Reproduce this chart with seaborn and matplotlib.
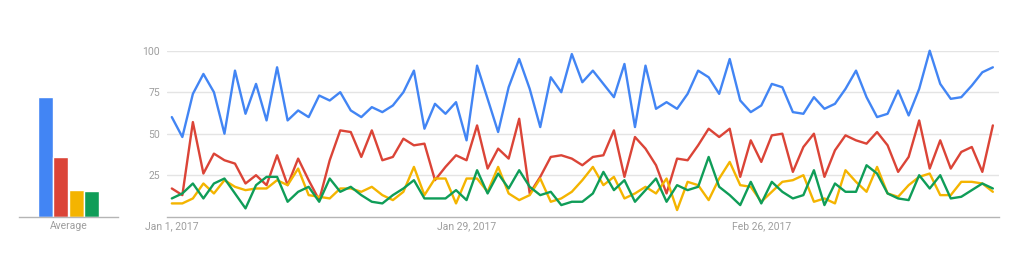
import matplotlib
matplotlib.use("Agg")
import matplotlib.pyplot as plt
import seaborn as sns
import pandas as pd
import numpy as np

# ---------------- data ----------------
start_date = "2017-01-01"
n_days = 79

blue = [60, 48, 74, 86, 75, 50, 88, 62, 80, 58, 90, 58, 64, 60, 73, 70, 75, 64, 60, 66,
        63, 67, 75, 88, 53, 68, 62, 69, 46, 91, 71, 51, 78, 95, 77, 54, 84, 75, 98, 81,
        88, 80, 72, 92, 54, 91, 65, 69, 65, 74, 88, 84, 74, 95, 70, 63, 67, 80, 78, 63,
        62, 72, 65, 68, 77, 88, 72, 60, 62, 76, 61, 77, 100, 80, 71, 72, 79, 87, 90]
red = [17, 13, 57, 26, 38, 34, 32, 20, 25, 19, 37, 19, 35, 22, 10, 34, 52, 51, 36, 52,
       34, 36, 47, 43, 44, 22, 30, 37, 34, 55, 29, 41, 35, 59, 14, 24, 36, 37, 35, 31,
       36, 37, 52, 24, 48, 41, 31, 14, 35, 34, 43, 53, 48, 53, 24, 46, 33, 49, 50, 27,
       42, 50, 24, 40, 49, 46, 44, 51, 43, 27, 36, 58, 29, 46, 29, 39, 42, 27, 55]
yellow = [8, 8, 11, 20, 14, 22, 18, 16, 17, 17, 22, 19, 29, 13, 12, 11, 17, 17, 15, 18,
          13, 10, 15, 30, 13, 23, 23, 8, 23, 23, 15, 30, 14, 10, 13, 23, 9, 11, 15, 22,
          30, 19, 24, 11, 14, 18, 14, 23, 4, 21, 19, 10, 23, 33, 19, 18, 9, 15, 21, 22,
          25, 9, 11, 8, 28, 21, 15, 30, 14, 12, 19, 24, 26, 13, 13, 21, 21, 20, 15]
green = [11, 14, 20, 11, 20, 23, 14, 5, 19, 24, 24, 9, 15, 18, 9, 23, 15, 18, 13, 9,
         8, 13, 17, 22, 11, 11, 11, 16, 10, 28, 14, 26, 17, 28, 18, 13, 15, 7, 9, 9,
         14, 27, 16, 22, 9, 16, 23, 9, 19, 16, 18, 36, 18, 13, 7, 21, 8, 21, 15, 11,
         13, 28, 7, 20, 15, 15, 31, 26, 14, 11, 10, 25, 17, 25, 11, 12, 16, 20, 17]

series_names = ["Term 1", "Term 2", "Term 3", "Term 4"]
series_colors = ["#4285F4", "#DB4437", "#F4B400", "#0F9D58"]
averages = [72, 36, 16, 15.5]

y_ticks = [25, 50, 75, 100]
x_tick_dates = ["2017-01-01", "2017-01-29", "2017-02-26"]
x_tick_labels = ["Jan 1, 2017", "Jan 29, 2017", "Feb 26, 2017"]
bar_label = "Average"

# ---------------- build frame ----------------
dates = pd.date_range(start_date, periods=n_days, freq="D")
df = pd.DataFrame({"date": np.tile(dates, 4),
                   "value": blue + red + yellow + green,
                   "term": np.repeat(series_names, n_days)})
avg_df = pd.DataFrame({"term": series_names, "avg": averages})

sns.set_theme(style="white")
plt.rcParams["font.family"] = ["Roboto", "DejaVu Sans"]

W, H = 1024, 275
fig = plt.figure(figsize=(W / 100, H / 100), dpi=100)
fig.patch.set_facecolor("white")

y0 = 216.7
y100 = 50.7
bottom = (H - y0) / H
height = (y0 - y100) / H

tick_color = "#9e9e9e"
grid_color = "#e4e4e4"
base_color = "#b5b5b5"

# ---------------- main line chart ----------------
ax = fig.add_axes([167 / W, bottom, (999 - 167) / W, height])
sns.lineplot(data=df, x="date", y="value", hue="term", palette=series_colors,
             linewidth=1.7, legend=False, ax=ax, clip_on=False)
for ln in ax.lines:
    ln.set_clip_on(False)
    ln.set_solid_joinstyle("round")

ax.set_ylim(0, 100)
left_lim = dates[0] - pd.Timedelta(hours=11)
right_lim = dates[-1] + pd.Timedelta(hours=14)
ax.set_xlim(left_lim, right_lim)
ax.set_yticks(y_ticks)
ax.set_yticklabels([str(v) for v in y_ticks])
ax.set_xticks(pd.to_datetime(x_tick_dates))
ax.set_xticklabels(x_tick_labels)
ax.set_xlabel("")
ax.set_ylabel("")
ax.grid(axis="y", color=grid_color, linewidth=1.0)
ax.grid(axis="x", visible=False)
ax.set_axisbelow(True)
for s in ["top", "right", "left"]:
    ax.spines[s].set_visible(False)
ax.spines["bottom"].set_color(base_color)
ax.spines["bottom"].set_linewidth(1.0)
ax.tick_params(axis="y", length=0, pad=5, labelsize=7.5, labelcolor=tick_color)
ax.tick_params(axis="x", length=0, pad=3, labelsize=7.5, labelcolor=tick_color)

# ---------------- average bar chart ----------------
bx = fig.add_axes([19 / W, bottom, (118 - 19) / W, height])
sns.barplot(data=avg_df, x="term", y="avg", hue="term", palette=series_colors,
            width=0.94, legend=False, ax=bx, saturation=1)
bx.set_ylim(0, 100)
bx.set_xlim(-1.69, 4.69)
bx.set_yticks([])
bx.set_xticks([1.5])
bx.set_xticklabels([bar_label])
bx.set_xlabel("")
bx.set_ylabel("")
for s in ["top", "right", "left"]:
    bx.spines[s].set_visible(False)
bx.spines["bottom"].set_color(base_color)
bx.spines["bottom"].set_linewidth(1.0)
bx.tick_params(axis="x", length=0, pad=3, labelsize=7.5, labelcolor=tick_color)
bx.set_facecolor("none")

fig.savefig("out.png", dpi=100, facecolor="white")
